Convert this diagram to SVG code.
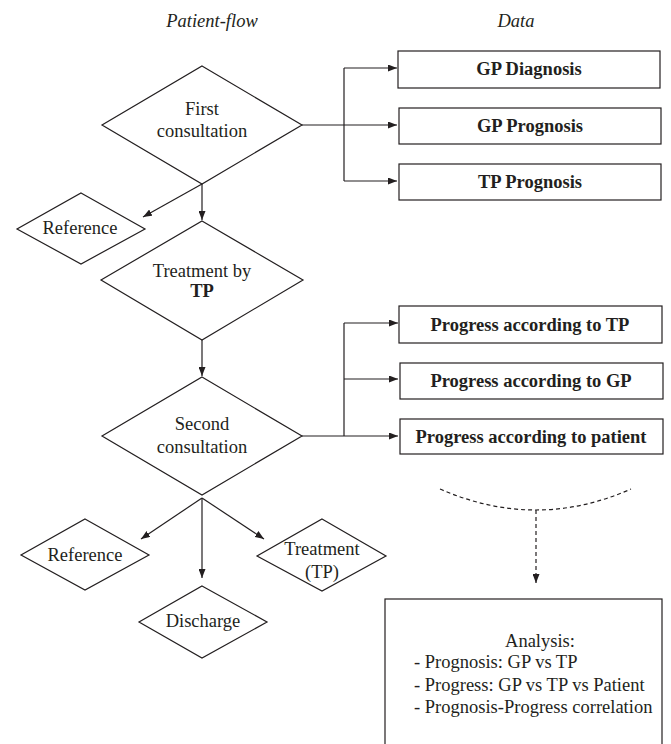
<svg xmlns="http://www.w3.org/2000/svg" width="671" height="744" viewBox="0 0 671 744">
<defs>
<style>
.shape{fill:#fff;stroke:#231f20;stroke-width:1.2}
.con{fill:none;stroke:#231f20;stroke-width:1.2}
.dash{fill:none;stroke:#231f20;stroke-width:1.2;stroke-dasharray:4 3}
text{font-family:"Liberation Serif","Times New Roman",serif;font-size:18.5px;fill:#231f20}
.c{text-anchor:middle}
.b{font-weight:bold}
.i{font-style:italic}
</style>
<marker id="ah" viewBox="0 0 9 7" refX="9" refY="3.5" markerWidth="9" markerHeight="7" markerUnits="userSpaceOnUse" orient="auto">
<path d="M0,0 L9,3.5 L0,7 z" fill="#231f20"/>
</marker>
</defs>
<rect width="671" height="744" fill="#fff"/>
<g id="headers">
<text class="c i" x="212" y="27">Patient-flow</text>
<text class="c i" x="516" y="27">Data</text>
</g>
<g id="connectors">
<path class="con" d="M302,125 H397" marker-end="url(#ah)"/>
<path class="con" d="M344,68 V181"/>
<path class="con" d="M344,68 H397" marker-end="url(#ah)"/>
<path class="con" d="M344,181 H397" marker-end="url(#ah)"/>
<path class="con" d="M202,184 L143,217" marker-end="url(#ah)"/>
<path class="con" d="M202,184 V220" marker-end="url(#ah)"/>
<path class="con" d="M202,340 V376" marker-end="url(#ah)"/>
<path class="con" d="M302,436 H398" marker-end="url(#ah)"/>
<path class="con" d="M344,323 V436"/>
<path class="con" d="M344,323 H398" marker-end="url(#ah)"/>
<path class="con" d="M344,379 H398" marker-end="url(#ah)"/>
<path class="con" d="M202,498 L141,539" marker-end="url(#ah)"/>
<path class="con" d="M202,498 V578" marker-end="url(#ah)"/>
<path class="con" d="M202,498 L264,539" marker-end="url(#ah)"/>
<path class="dash" d="M440,489 Q536,531 631,489"/>
<path class="dash" d="M536,510 V583" marker-end="url(#ah)"/>
</g>
<g id="first-consultation">
<polygon class="shape" points="202,66 302,125 202,184 102,125"/>
<text class="c" x="202" y="115">First</text>
<text class="c" x="202" y="137">consultation</text>
</g>
<g id="reference-1">
<polygon class="shape" points="81,193 145,229 81,264 17,229"/>
<text class="c" x="80" y="234">Reference</text>
</g>
<g id="treatment-by-tp">
<polygon class="shape" points="202,221 303,280 202,340 101,280"/>
<text class="c" x="202" y="277">Treatment by</text>
<text class="c b" x="202" y="297">TP</text>
</g>
<g id="second-consultation">
<polygon class="shape" points="202,377 302,436 202,495 102,436"/>
<text class="c" x="202" y="430">Second</text>
<text class="c" x="202" y="453">consultation</text>
</g>
<g id="reference-2">
<polygon class="shape" points="85,519 149,555 85,590 21,555"/>
<text class="c" x="85" y="561">Reference</text>
</g>
<g id="discharge">
<polygon class="shape" points="202,586 267,622 202,658 139,622"/>
<text class="c" x="203" y="627">Discharge</text>
</g>
<g id="treatment-tp">
<polygon class="shape" points="322,519 386,556 322,591 257,556"/>
<text class="c" x="322" y="555">Treatment</text>
<text class="c" x="322" y="578">(TP)</text>
</g>
<g id="gp-diagnosis">
<rect class="shape" x="398" y="51" width="262" height="37"/>
<text class="c b" x="529" y="75">GP Diagnosis</text>
</g>
<g id="gp-prognosis">
<rect class="shape" x="399" y="108" width="262" height="36"/>
<text class="c b" x="530" y="132">GP Prognosis</text>
</g>
<g id="tp-prognosis">
<rect class="shape" x="399" y="164" width="262" height="36"/>
<text class="c b" x="530" y="188">TP Prognosis</text>
</g>
<g id="progress-tp">
<rect class="shape" x="399" y="306" width="263" height="37"/>
<text class="c b" x="530" y="331">Progress according to TP</text>
</g>
<g id="progress-gp">
<rect class="shape" x="400" y="363" width="263" height="36"/>
<text class="c b" x="531" y="387">Progress according to GP</text>
</g>
<g id="progress-patient">
<rect class="shape" x="400" y="419" width="263" height="35"/>
<text class="c b" x="531" y="443">Progress according to patient</text>
</g>
<g id="analysis">
<rect class="shape" x="385" y="599" width="277" height="150"/>
<text class="c" x="540" y="647">Analysis:</text>
<text x="414" y="668">- Prognosis: GP vs TP</text>
<text x="414" y="691">- Progress: GP vs TP vs Patient</text>
<text x="414" y="713">- Prognosis-Progress correlation</text>
</g>
</svg>
